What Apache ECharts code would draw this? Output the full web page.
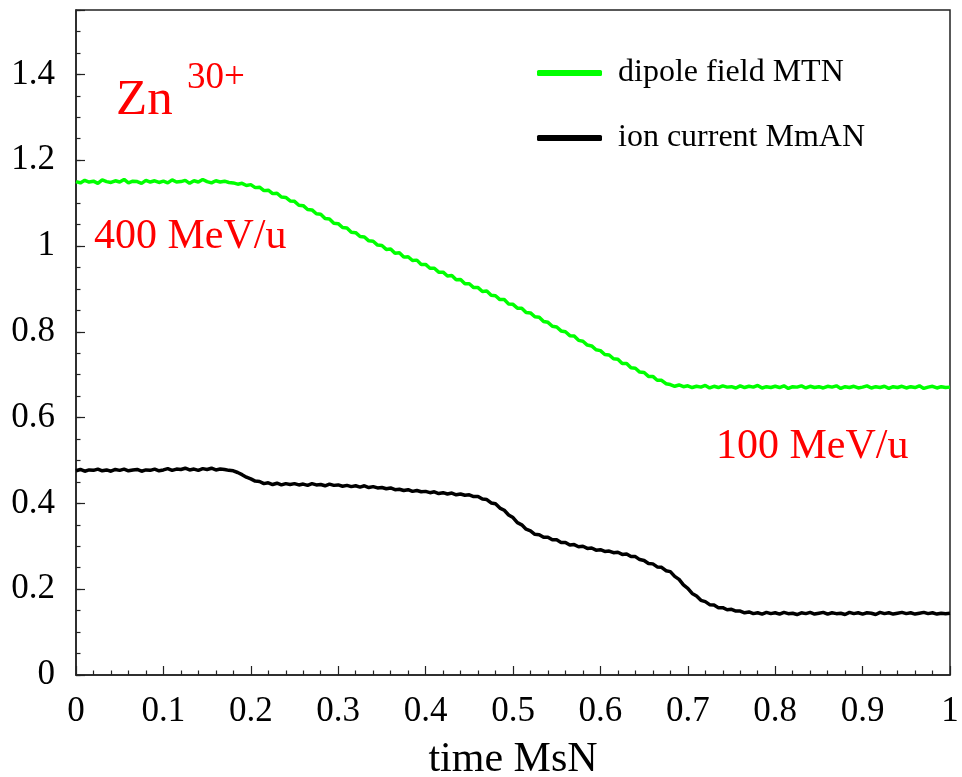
<!DOCTYPE html>
<html>
<head>
<meta charset="utf-8">
<script src="https://cdn.jsdelivr.net/npm/echarts@6/dist/echarts.min.js"></script>
<style>
  html, body { margin: 0; padding: 0; background: #fff; }
  #main { width: 962px; height: 777px; }
</style>
</head>
<body>
<div id="main"></div>
<script>
// samples every 0.005 in time, from 0 to 1
var timeStep = 0.005;

var dipoleField = [
  1.150, 1.147, 1.153, 1.149, 1.151, 1.146, 1.154, 1.150, 1.148, 1.152,
  1.149, 1.155, 1.147, 1.151, 1.150, 1.146, 1.153, 1.149, 1.152, 1.148,
  1.151, 1.147, 1.154, 1.149, 1.150, 1.153, 1.146, 1.152, 1.149, 1.155,
  1.150, 1.147, 1.152, 1.149, 1.151, 1.148, 1.147, 1.144, 1.146, 1.141,
  1.143, 1.136, 1.137, 1.129, 1.130, 1.122, 1.123, 1.114, 1.113, 1.105,
  1.104, 1.095, 1.094, 1.085, 1.084, 1.075, 1.074, 1.064, 1.063, 1.053,
  1.052, 1.043, 1.042, 1.032, 1.031, 1.022, 1.021, 1.012, 1.011, 1.002,
  1.001, 0.992, 0.993, 0.983, 0.984, 0.974, 0.975, 0.966, 0.967, 0.957,
  0.957, 0.948, 0.948, 0.939, 0.939, 0.930, 0.931, 0.921, 0.922, 0.912,
  0.912, 0.903, 0.903, 0.894, 0.895, 0.885, 0.884, 0.875, 0.875, 0.865,
  0.864, 0.855, 0.855, 0.845, 0.844, 0.835, 0.834, 0.824, 0.822, 0.813,
  0.811, 0.802, 0.800, 0.791, 0.790, 0.780, 0.778, 0.769, 0.767, 0.758,
  0.756, 0.747, 0.746, 0.737, 0.736, 0.726, 0.726, 0.716, 0.715, 0.706,
  0.705, 0.696, 0.696, 0.687, 0.687, 0.679, 0.677, 0.673, 0.676, 0.672,
  0.674, 0.670, 0.673, 0.671, 0.675, 0.669, 0.673, 0.670, 0.674, 0.671,
  0.672, 0.669, 0.674, 0.670, 0.673, 0.671, 0.675, 0.669, 0.672, 0.670,
  0.673, 0.670, 0.674, 0.668, 0.672, 0.671, 0.674, 0.669, 0.673, 0.670,
  0.672, 0.669, 0.673, 0.671, 0.674, 0.668, 0.672, 0.670, 0.673, 0.669,
  0.671, 0.674, 0.669, 0.672, 0.670, 0.673, 0.668, 0.672, 0.670, 0.673,
  0.669, 0.672, 0.670, 0.674, 0.668, 0.671, 0.673, 0.669, 0.672, 0.670,
  0.671
];

var ionCurrent = [
  0.476, 0.479, 0.475, 0.478, 0.477, 0.480, 0.476, 0.478, 0.475, 0.479,
  0.477, 0.480, 0.476, 0.478, 0.479, 0.475, 0.478, 0.477, 0.480, 0.476,
  0.478, 0.481, 0.477, 0.480, 0.479, 0.482, 0.478, 0.480, 0.477, 0.481,
  0.479, 0.482, 0.478, 0.480, 0.479, 0.477, 0.476, 0.472, 0.467, 0.461,
  0.457, 0.452, 0.451, 0.446, 0.448, 0.444, 0.447, 0.443, 0.446, 0.444,
  0.446, 0.443, 0.445, 0.442, 0.446, 0.443, 0.444, 0.441, 0.445, 0.442,
  0.443, 0.440, 0.442, 0.439, 0.441, 0.438, 0.441, 0.437, 0.439, 0.436,
  0.437, 0.434, 0.436, 0.432, 0.433, 0.430, 0.432, 0.428, 0.430, 0.427,
  0.428, 0.425, 0.427, 0.423, 0.425, 0.422, 0.424, 0.420, 0.422, 0.419,
  0.420, 0.416, 0.416, 0.410, 0.409, 0.401, 0.399, 0.389, 0.384, 0.373,
  0.367, 0.355, 0.350, 0.340, 0.336, 0.328, 0.327, 0.321, 0.321, 0.315,
  0.315, 0.309, 0.309, 0.303, 0.304, 0.299, 0.300, 0.295, 0.296, 0.291,
  0.292, 0.288, 0.289, 0.285, 0.286, 0.281, 0.282, 0.276, 0.276, 0.269,
  0.267, 0.260, 0.259, 0.252, 0.251, 0.243, 0.241, 0.230, 0.223, 0.210,
  0.202, 0.190, 0.184, 0.174, 0.171, 0.164, 0.163, 0.157, 0.157, 0.152,
  0.153, 0.149, 0.149, 0.145, 0.147, 0.143, 0.145, 0.142, 0.146, 0.143,
  0.145, 0.142, 0.146, 0.143, 0.144, 0.141, 0.145, 0.143, 0.146, 0.142,
  0.144, 0.146, 0.142, 0.145, 0.143, 0.144, 0.141, 0.146, 0.143, 0.145,
  0.142, 0.145, 0.144, 0.141, 0.146, 0.143, 0.145, 0.142, 0.144, 0.146,
  0.143, 0.145, 0.142, 0.144, 0.146, 0.143, 0.145, 0.142, 0.144, 0.143,
  0.144
];

var seriesNames = ['dipole field MTN', 'ion current MmAN'];
var seriesColors = ['#00ff00', '#000000'];

function toPairs(values) {
  var out = [];
  for (var i = 0; i < values.length; i++) {
    out.push([+(i * timeStep).toFixed(3), values[i]]);
  }
  return out;
}

var serif = "'Liberation Serif', 'DejaVu Serif', serif";
var axisColor = '#222';

// the original text is a little heavier, fake it with a 1px shadow
function heavy(color) {
  return { textShadowColor: color, textShadowBlur: 0, textShadowOffsetX: 0.7 };
}
function label(text, size, x, y) {
  return {
    type: 'text', left: x, top: y,
    style: {
      text: text, fontFamily: serif, fontSize: size, fill: '#ff0000',
      shadowColor: '#ff0000', shadowBlur: 0, shadowOffsetX: 0.7
    }
  };
}

var chart = echarts.init(document.getElementById('main'));

var option = {
  animation: false,
  backgroundColor: '#fff',
  grid: {
    left: 76, right: 12, top: 10, bottom: 102,
    outerBoundsMode: 'none',
    show: true, borderColor: axisColor, borderWidth: 1.5
  },
  legend: {
    orient: 'vertical',
    left: 537,
    top: 57,
    padding: 0,
    itemWidth: 65,
    itemHeight: 6,
    itemGap: 33,
    textStyle: Object.assign({
      fontFamily: serif, fontSize: 32, color: '#000',
      padding: [0, 0, 0, 11]
    }, heavy('#000')),
    data: [
      { name: seriesNames[0], icon: 'roundRect' },
      { name: seriesNames[1], icon: 'roundRect' }
    ]
  },
  xAxis: {
    type: 'value',
    min: 0, max: 1, interval: 0.1,
    name: 'time MsN',
    nameLocation: 'middle',
    nameGap: 64,
    nameTextStyle: Object.assign({ fontFamily: serif, fontSize: 42, color: '#000' }, heavy('#000')),
    axisLine: { lineStyle: { color: axisColor, width: 1.5 } },
    axisTick: { inside: true, length: 9, lineStyle: { color: axisColor, width: 1.2 } },
    minorTick: { show: true, splitNumber: 5, length: 4.5, lineStyle: { color: axisColor, width: 1.2 } },
    splitLine: { show: false },
    axisLabel: Object.assign({
      fontFamily: serif, fontSize: 35, color: '#000', margin: 19,
      formatter: function (v) { return String(Math.round(v * 10) / 10); }
    }, heavy('#000'))
  },
  yAxis: [
    {
      type: 'value',
      min: 0, max: 1.55, interval: 0.05,
      axisLine: { show: true, lineStyle: { color: axisColor, width: 1.5 } },
      axisTick: { inside: true, length: 4.5, lineStyle: { color: axisColor, width: 1.2 } },
      splitLine: { show: false },
      axisLabel: Object.assign({
        fontFamily: serif, fontSize: 35, color: '#000', margin: 21,
        formatter: function (v) {
          var k = v / 0.2;
          if (Math.abs(k - Math.round(k)) > 1e-6 || v > 1.45) return '';
          return String(Math.round(v * 10) / 10);
        }
      }, heavy('#000'))
    },
    {
      type: 'value',
      position: 'left',
      min: 0, max: 1.55, interval: 0.2,
      axisLine: { show: false },
      axisTick: { inside: true, length: 9, lineStyle: { color: axisColor, width: 1.2 } },
      axisLabel: { show: false },
      splitLine: { show: false }
    }
  ],
  series: [
    {
      name: seriesNames[0],
      type: 'line',
      showSymbol: false,
      color: seriesColors[0],
      lineStyle: { color: seriesColors[0], width: 3.5 },
      data: toPairs(dipoleField)
    },
    {
      name: seriesNames[1],
      type: 'line',
      showSymbol: false,
      color: seriesColors[1],
      lineStyle: { color: seriesColors[1], width: 3.5 },
      data: toPairs(ionCurrent)
    }
  ],
  graphic: [
    label('Zn', 51, 116, 75),
    label('30+', 37, 187, 60),
    label('400 MeV/u', 42, 94, 216),
    label('100 MeV/u', 42, 716, 426)
  ]
};

chart.setOption(option);
</script>
</body>
</html>
